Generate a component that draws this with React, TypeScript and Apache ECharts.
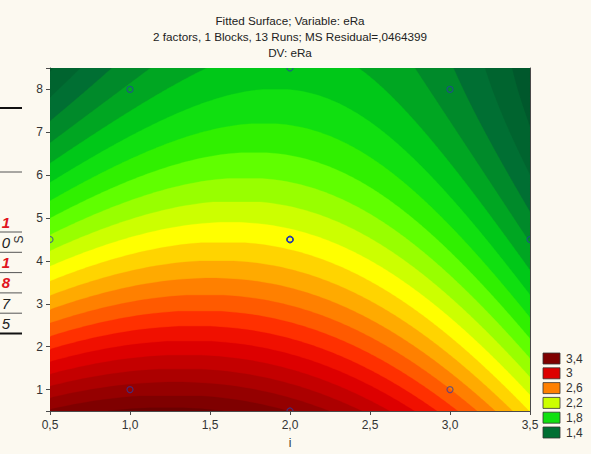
import React, { useEffect, useRef } from 'react';
import * as echarts from 'echarts';

// ---- Data: 13 runs of the central composite design (i, S, observed eRa) ----
const RUN_I = [1, 3, 1, 3, 0.5, 3.5, 2, 2, 2, 2, 2, 2, 2];
const RUN_S = [1, 1, 8, 8, 4.5, 4.5, 0.5, 8.5, 4.5, 4.5, 4.5, 4.5, 4.5];
const RUN_ERA = [3.34, 2.7, 1.62, 1.54, 2.13, 1.59, 3.4, 1.75, 2.62, 2.08, 2.41, 2.29, 2.35];

// contour boundaries (lower edge of each band)
const LEVELS = [1.2, 1.3, 1.4, 1.5, 1.6, 1.7, 1.8, 1.9, 2.0, 2.1, 2.2, 2.3, 2.4, 2.5, 2.6, 2.7, 2.8, 2.9, 3.0, 3.1, 3.2, 3.3, 3.4, 3.5];
const LEVEL_COLORS = [
  '#00582c', '#00642f', '#006f33', '#008a2a', '#00a622', '#00c818', '#10e010', '#30f000',
  '#60ff00', '#98ff00', '#ccff00', '#ffff00', '#ffd400', '#ffaa00', '#ff8000', '#ff5a00',
  '#ff3000', '#f01000', '#dd0000', '#c40000', '#ac0000', '#950000', '#7f0000', '#6c0000',
];
const BASE_COLOR = '#004c26';
const LEGEND_VALUES = [3.4, 3, 2.6, 2.2, 1.8, 1.4];
const TITLE_LINES = [
  'Fitted Surface; Variable: eRa',
  '2 factors, 1 Blocks, 13 Runs; MS Residual=,0464399',
  'DV: eRa',
];
const X_RANGE = [0.5, 3.5];
const Y_RANGE = [0.5, 8.5];

// cut-off cells of a neighbouring table at the page's left edge
const FRAG_DIGITS = ['1', '0', '1', '8', '7', '5'];
const FRAG_RED = [true, false, true, true, false, false];

const FONT = "'Liberation Sans', Arial, Helvetica, sans-serif";

// least squares fit of full quadratic model z = b0 + b1 x + b2 y + b3 x^2 + b4 y^2 + b5 xy
function fitQuadratic(xs: number[], ys: number[], zs: number[]): number[] {
  const n = 6;
  const M = Array.from({ length: n }, () => new Array(n + 1).fill(0));
  for (let k = 0; k < xs.length; k++) {
    const x = xs[k], y = ys[k];
    const row = [1, x, y, x * x, y * y, x * y];
    for (let i = 0; i < n; i++) {
      for (let j = 0; j < n; j++) M[i][j] += row[i] * row[j];
      M[i][n] += row[i] * zs[k];
    }
  }
  for (let c = 0; c < n; c++) {
    let p = c;
    for (let r = c + 1; r < n; r++) if (Math.abs(M[r][c]) > Math.abs(M[p][c])) p = r;
    [M[c], M[p]] = [M[p], M[c]];
    for (let r = 0; r < n; r++) {
      if (r === c) continue;
      const f = M[r][c] / M[c][c];
      for (let j = c; j <= n; j++) M[r][j] -= f * M[c][j];
    }
  }
  return M.map((r, i) => r[n] / r[i]);
}

const BETA = fitQuadratic(RUN_I, RUN_S, RUN_ERA);

// region {z >= L} as polygons (data coordinates)
function superlevel(L: number, rows = 320): number[][][] {
  const [b0, b1, b2, b3, b4, b5] = BETA;
  const polys: number[][][] = [];
  let left: number[][] = [];
  let right: number[][] = [];
  for (let k = 0; k <= rows; k++) {
    const y = Y_RANGE[0] + ((Y_RANGE[1] - Y_RANGE[0]) * k) / rows;
    const A = b3, B = b1 + b5 * y, C = b0 + b2 * y + b4 * y * y - L;
    let iv: number[] | null = null;
    if (A < 0) {
      const disc = B * B - 4 * A * C;
      if (disc >= 0) {
        const s = Math.sqrt(disc);
        const r1 = (-B + s) / (2 * A), r2 = (-B - s) / (2 * A);
        const lo = Math.max(Math.min(r1, r2), X_RANGE[0]);
        const hi = Math.min(Math.max(r1, r2), X_RANGE[1]);
        if (hi > lo) iv = [lo, hi];
      }
    }
    if (iv) {
      left.push([iv[0], y]);
      right.push([iv[1], y]);
    } else if (left.length) {
      polys.push(left.concat(right.reverse()));
      left = [];
      right = [];
    }
  }
  if (left.length) polys.push(left.concat(right.reverse()));
  return polys;
}

function levelColor(v: number): string {
  const i = LEVELS.findIndex((l) => Math.abs(l - v) < 1e-6);
  return i >= 0 ? LEVEL_COLORS[i] : BASE_COLOR;
}

export default function App() {
  const ref = useRef<HTMLDivElement>(null);
  useEffect(() => {
    if (!ref.current) return;
    const chart = echarts.init(ref.current, undefined, { renderer: 'svg' });
    const labelStyle = { color: '#333', fontSize: 12, fontFamily: FONT };
    const axisLine = { show: true, onZero: false, lineStyle: { color: '#4a4a4a', width: 1 } };

    const legendGraphics: any[] = [];
    LEGEND_VALUES.forEach((v, i) => {
      const cy = 358.5 + i * 14.8;
      legendGraphics.push({
        type: 'rect',
        shape: { x: 543, y: cy - 5.5, width: 17, height: 11 },
        style: { fill: levelColor(v), stroke: '#333', lineWidth: 0.8 },
      });
      legendGraphics.push({
        type: 'text',
        x: 566,
        y: cy,
        style: { text: String(v).replace('.', ','), fill: '#333', fontSize: 12, fontFamily: FONT, align: 'left', verticalAlign: 'middle' },
      });
    });

    const titleGraphics = TITLE_LINES.map((t, i) => ({
      type: 'text',
      x: 290,
      y: 20 + i * 16,
      style: { text: t, fill: '#222', fontSize: 11.7, fontFamily: FONT, align: 'center', verticalAlign: 'middle' },
    }));

    const frag: any[] = [
      { type: 'line', shape: { x1: 0, y1: 108, x2: 22, y2: 108 }, style: { stroke: '#111', lineWidth: 2 } },
      { type: 'line', shape: { x1: 0, y1: 172, x2: 22, y2: 172 }, style: { stroke: '#555', lineWidth: 1 } },
    ];
    FRAG_DIGITS.forEach((t, i) => {
      const y = 222 + i * 20.3;
      frag.push({
        type: 'text', x: 10, y,
        style: {
          text: t, fill: FRAG_RED[i] ? '#e0141e' : '#222', fontSize: 15, fontStyle: 'italic',
          fontWeight: FRAG_RED[i] ? 'bold' : 'normal', fontFamily: FONT, align: 'right', verticalAlign: 'middle',
        },
      });
      frag.push({
        type: 'line', shape: { x1: 0, y1: y + 10, x2: 22, y2: y + 10 },
        style: { stroke: i === FRAG_DIGITS.length - 1 ? '#111' : '#555', lineWidth: i === FRAG_DIGITS.length - 1 ? 2 : 1 },
      });
    });

    chart.setOption({
      animation: false,
      backgroundColor: '#fcf9f0',
      grid: { left: 50, right: 61, top: 68, bottom: 38, show: true, backgroundColor: BASE_COLOR, borderWidth: 0 },
      xAxis: [
        {
          type: 'value', min: X_RANGE[0], max: X_RANGE[1], interval: 0.5, position: 'bottom',
          axisLine, axisTick: { show: true, inside: false, length: 4, lineStyle: { color: '#4a4a4a' } },
          axisLabel: { ...labelStyle, margin: 8, formatter: (v: number) => v.toFixed(1).replace('.', ',') },
          splitLine: { show: false },
          name: 'i', nameLocation: 'middle', nameGap: 26, nameTextStyle: { ...labelStyle, color: '#333' },
        },
        {
          type: 'value', min: X_RANGE[0], max: X_RANGE[1], interval: 0.5, position: 'top',
          axisLine, axisTick: { show: true, inside: true, length: 3, lineStyle: { color: '#4a4a4a' } },
          axisLabel: { show: false }, splitLine: { show: false },
        },
      ],
      yAxis: [
        {
          type: 'value', min: Y_RANGE[0], max: Y_RANGE[1], splitNumber: 8, position: 'left',
          axisLine, axisTick: { show: true, inside: false, length: 4, lineStyle: { color: '#4a4a4a' } },
          axisLabel: { ...labelStyle, margin: 7, formatter: (v: number) => (Number.isInteger(v) ? String(v) : '') },
          splitLine: { show: false },
          name: 'S', nameLocation: 'middle', nameGap: 24, nameTextStyle: { ...labelStyle, color: '#333' },
        },
        {
          type: 'value', min: Y_RANGE[0], max: Y_RANGE[1], splitNumber: 8, position: 'right',
          axisLine, axisTick: { show: true, inside: true, length: 3, lineStyle: { color: '#4a4a4a' } },
          axisLabel: { show: false }, splitLine: { show: false },
        },
      ],
      series: [
        {
          type: 'custom',
          coordinateSystem: 'cartesian2d',
          clip: true,
          silent: true,
          data: LEVELS.map((L) => [2, 4.5, L]),
          encode: { x: 0, y: 1 },
          renderItem: (params: any, api: any) => {
            const L = api.value(2);
            const polys = superlevel(L);
            const fill = levelColor(L);
            return {
              type: 'group',
              children: polys.map((p) => ({
                type: 'polygon',
                shape: { points: p.map((pt) => api.coord(pt)) },
                style: { fill, stroke: fill, lineWidth: 0.3 },
              })),
            };
          },
        },
        {
          type: 'custom',
          coordinateSystem: 'cartesian2d',
          clip: true,
          silent: true,
          data: RUN_I.map((x, i) => [x, RUN_S[i], RUN_ERA[i]]),
          encode: { x: 0, y: 1 },
          renderItem: (params: any, api: any) => {
            const c = api.coord([api.value(0), api.value(1)]);
            return {
              type: 'circle',
              shape: { cx: c[0], cy: c[1], r: 3 },
              style: { fill: 'none', stroke: 'rgba(40,60,170,0.7)', lineWidth: 1.2 },
            };
          },
        },
      ],
      graphic: [...titleGraphics, ...legendGraphics, ...frag],
    });
    return () => chart.dispose();
  }, []);
  return <div ref={ref} style={{ position: 'absolute', left: 0, top: 0, width: 591, height: 454 }} />;
}
